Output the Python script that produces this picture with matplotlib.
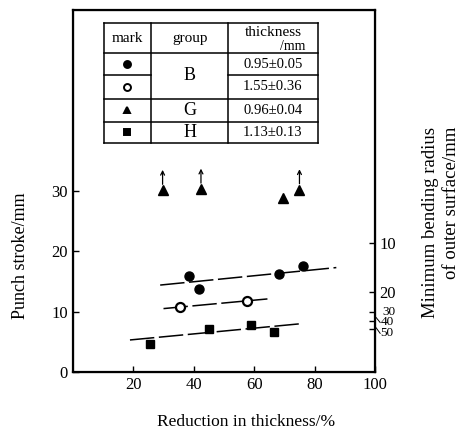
from matplotlib import pyplot as plt
import numpy as np

# B group, thickness 0.95 (filled circles)
b1_x = [38.3, 41.7, 68.3, 76.1]
b1_y = [15.9, 13.8, 16.3, 17.5]
b1_fit_x = [28.9, 87.2]
b1_fit_y = [14.4, 17.3]

# B group, thickness 1.55 (open circles)
b2_x = [35.6, 57.8]
b2_y = [10.8, 11.7]
b2_fit_x = [30.0, 64.4]
b2_fit_y = [10.5, 12.1]

# G group (triangles), arrows mean "not broken"
g_x = [29.7, 42.4, 69.4, 75.0]
g_y = [30.1, 30.3, 28.8, 30.2]
g_arrow = [True, True, False, True]

# H group (squares)
h_x = [25.6, 45.2, 58.9, 66.7]
h_y = [4.7, 7.2, 7.7, 6.6]
h_fit_x = [18.9, 75.6]
h_fit_y = [5.3, 8.0]

x_ticks = [20, 40, 60, 80, 100]
y_ticks = [0, 10, 20, 30]
r_tick_pos = [21.3, 13.3, 9.9, 8.4, 7.2]
r_tick_lab = ['10', '20', '30', '40', '50']

table_marks = ['o', 'o', '^', 's']
table_fill = ['black', 'white', 'black', 'black']
table_groups = ['B', 'G', 'H']
table_thick = ['0.95±0.05', '1.55±0.36', '0.96±0.04', '1.13±0.13']


def main():
    plt.rcParams['font.family'] = ['Liberation Serif', 'DejaVu Serif']
    fig = plt.figure(figsize=(4.67, 4.34), dpi=100)
    ax = fig.add_axes([0.156, 0.143, 0.647, 0.834])
    ax.set_xlim(0, 100)
    ax.set_ylim(0, 60)

    dash = (0, (16, 3))
    ax.plot(b1_fit_x, b1_fit_y, color='black', lw=1.1, linestyle=dash)
    ax.plot(b2_fit_x, b2_fit_y, color='black', lw=1.1, linestyle=dash)
    ax.plot(h_fit_x, h_fit_y, color='black', lw=1.1, linestyle=dash)

    ax.plot(b1_x, b1_y, 'o', color='black', ms=6.5, zorder=3)
    ax.plot(b2_x, b2_y, 'o', mfc='white', mec='black', mew=1.6, ms=6.5, zorder=3)
    ax.plot(g_x, g_y, '^', color='black', ms=6.5, zorder=3)
    ax.plot(h_x, h_y, 's', color='black', ms=5.5, zorder=3)
    for x, y, a in zip(g_x, g_y, g_arrow):
        if a:
            ax.annotate('', xy=(x, y + 3.4), xytext=(x, y + 1.0),
                        arrowprops=dict(arrowstyle='->', lw=0.9, color='black',
                                        shrinkA=0, shrinkB=0, mutation_scale=7))

    ax.set_xticks(x_ticks)
    ax.set_yticks(y_ticks)
    ax.tick_params(direction='in', length=4, width=1, labelsize=12, right=False, top=False)
    for s in ax.spines.values():
        s.set_linewidth(1.6)
    fig.text(0.527, 0.028, 'Reduction in thickness/%', fontsize=12.5, ha='center', va='center')
    fig.text(0.043, 0.41, 'Punch stroke/mm', fontsize=13, rotation=90, ha='center', va='center')

    ax2 = ax.twinx()
    ax2.set_ylim(0, 60)
    ax2.set_yticks(r_tick_pos)
    ax2.set_yticklabels(['10', '20', '', '', ''])
    ax2.tick_params(direction='in', length=4, width=1, labelsize=12, pad=3)
    ax2.text(102.3, 10.0, r_tick_lab[2], fontsize=9.5, va='center', ha='left')
    ax2.text(101.8, 8.2, r_tick_lab[3], fontsize=9.5, va='center', ha='left')
    ax2.text(101.8, 6.4, r_tick_lab[4], fontsize=9.5, va='center', ha='left')
    ax2.plot([100.4, 101.7], [9.0, 8.2], color='black', lw=0.7, clip_on=False)
    ax2.plot([100.4, 101.7], [7.3, 6.4], color='black', lw=0.7, clip_on=False)
    fig.text(0.944, 0.488, 'Minimum bending radius\nof outer surface/mm', rotation=90,
             fontsize=13.5, ha='center', va='center', linespacing=1.3, multialignment='right')

    # legend table drawn as lines in data coordinates
    cols = [10.2, 25.9, 51.4, 81.0]
    rows = [57.8, 52.8, 49.2, 45.3, 41.5, 38.0]
    k = dict(color='black', lw=1.1)
    for c in cols:
        ax.plot([c, c], [rows[-1], rows[0]], **k)
    ax.plot([cols[0], cols[-1]], [rows[0], rows[0]], **k)
    ax.plot([cols[0], cols[-1]], [rows[1], rows[1]], **k)
    ax.plot([cols[0], cols[1]], [rows[2], rows[2]], **k)
    ax.plot([cols[2], cols[3]], [rows[2], rows[2]], **k)
    ax.plot([cols[0], cols[-1]], [rows[3], rows[3]], **k)
    ax.plot([cols[0], cols[-1]], [rows[4], rows[4]], **k)
    ax.plot([cols[0], cols[-1]], [rows[5], rows[5]], **k)

    ax.text((cols[0] + cols[1]) / 2, (rows[0] + rows[1]) / 2, 'mark', fontsize=11, ha='center', va='center')
    ax.text((cols[1] + cols[2]) / 2, (rows[0] + rows[1]) / 2, 'group', fontsize=11, ha='center', va='center')
    ax.text((cols[2] + cols[3]) / 2, (rows[0] + rows[1]) / 2 + 0.9, 'thickness', fontsize=11, ha='center', va='center')
    ax.text((cols[2] + cols[3]) / 2 + 6.5, (rows[0] + rows[1]) / 2 - 1.4, '/mm', fontsize=10, ha='center', va='center')

    for i in range(4):
        yc = (rows[i + 1] + rows[i + 2]) / 2
        ax.plot((cols[0] + cols[1]) / 2, yc, table_marks[i], mfc=table_fill[i], mec='black',
                mew=1.4, ms=5 if table_marks[i] != 's' else 4.5)
        ax.text((cols[2] + cols[3]) / 2, yc, table_thick[i], fontsize=10.5, ha='center', va='center')
    ax.text((cols[1] + cols[2]) / 2, rows[2], table_groups[0], fontsize=13, ha='center', va='center')
    ax.text((cols[1] + cols[2]) / 2, (rows[3] + rows[4]) / 2, table_groups[1], fontsize=13, ha='center', va='center')
    ax.text((cols[1] + cols[2]) / 2, (rows[4] + rows[5]) / 2, table_groups[2], fontsize=13, ha='center', va='center')

    fig.savefig('out.png', dpi=100)


if __name__ == '__main__':
    main()
